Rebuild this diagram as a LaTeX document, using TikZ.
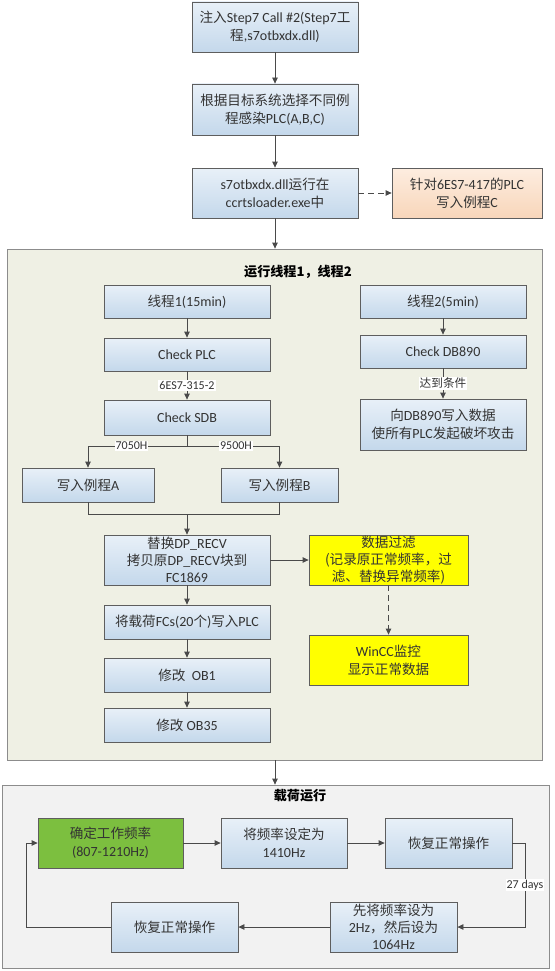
\documentclass[tikz,border=0pt]{standalone}
\usepackage{fontspec}
\setmainfont{Carlito}
\newfontfamily\cjk{Noto Sans CJK SC}[Scale=0.97]
\usetikzlibrary{arrows.meta}
\newcommand\zh[1]{{\cjk #1}}
\definecolor{lineC}{HTML}{4A4A4A}
\definecolor{txtC}{HTML}{333333}
\definecolor{boxTop}{HTML}{E8F0F8}
\definecolor{boxBot}{HTML}{C4D8EB}
\definecolor{boxBorder}{HTML}{5E5E5E}
\definecolor{orTop}{HTML}{FDEDE0}
\definecolor{orBot}{HTML}{F8D6BA}
\definecolor{yel}{HTML}{FFFF00}
\definecolor{grn}{HTML}{7CBF3F}
\definecolor{panelA}{HTML}{EFF0E4}
\definecolor{panelB}{HTML}{F2F2F2}
\definecolor{panelBorder}{HTML}{8C8C8C}
\tikzset{
  basebox/.style={draw=boxBorder, line width=0.8pt, inner sep=0pt, align=center,
    text=txtC, font=\fontsize{14}{18}\selectfont},
  bluebox/.style={basebox, top color=boxTop, bottom color=boxBot},
  orangebox/.style={basebox, top color=orTop, bottom color=orBot},
  yellowbox/.style={basebox, fill=yel},
  greenbox/.style={basebox, fill=grn},
  panel/.style={draw=panelBorder, line width=0.8pt, inner sep=0pt},
  arr/.style={draw=lineC, line width=0.8pt, -{Triangle[length=6pt,width=5.5pt]}},
  conn/.style={draw=lineC, line width=0.8pt},
  dasharr/.style={arr, dash pattern=on 6pt off 4pt},
  lbl/.style={fill=white, inner sep=1pt, text=txtC, font=\fontsize{12}{14}\selectfont},
  ptitle/.style={text=black, inner sep=0pt, font=\cjk\bfseries\fontsize{13.5}{15}\selectfont}
}
\begin{document}
\begin{tikzpicture}[x=1pt,y=-1pt]
\useasboundingbox (0,0) rectangle (554,971);
\fill[white] (0,0) rectangle (554,971);

% panels
\node[panel, fill=panelA, minimum width=535pt, minimum height=511pt] (p1) at (274.5,504.5) {};
\node[panel, fill=panelB, minimum width=547pt, minimum height=183pt] (p2) at (275.5,876.5) {};
\node[ptitle] (title1) at (298,272) {运行线程1，线程2};
\node[ptitle] (title2) at (300,796) {载荷运行};

% top chain
\node[bluebox, minimum width=166pt, minimum height=50pt] (n1) at (275,27)
  {\zh{注入}Step7 Call \#2(Step7\zh{工}\\\zh{程},s7otbxdx.dll)};
\node[bluebox, minimum width=166pt, minimum height=51pt] (n2) at (275,109.5)
  {\zh{根据目标系统选择不同例}\\\zh{程感染}PLC(A,B,C)};
\node[bluebox, minimum width=166pt, minimum height=50pt] (n3) at (275,193)
  {s7otbxdx.dll\zh{运行在}\\ccrtsloader.exe\zh{中}};
\node[orangebox, minimum width=150pt, minimum height=50pt] (nc) at (467,193)
  {\zh{针对}6ES7-417\zh{的}PLC\\\zh{写入例程}C};

% thread 1
\node[bluebox, minimum width=166pt, minimum height=33pt] (t1) at (187,301.5) {\zh{线程}1(15min)};
\node[bluebox, minimum width=166pt, minimum height=33pt] (cplc) at (187,354.5) {Check PLC};
\node[bluebox, minimum width=166pt, minimum height=35pt] (csdb) at (187,417.5) {Check SDB};
\node[bluebox, minimum width=132pt, minimum height=34pt] (wa) at (88,485) {\zh{写入例程}A};
\node[bluebox, minimum width=117pt, minimum height=34pt] (wb) at (279.5,485) {\zh{写入例程}B};
\node[bluebox, minimum width=166pt, minimum height=50pt, font=\fontsize{14}{17}\selectfont] (dp) at (187,560)
  {\zh{替换}DP\_RECV\\\zh{拷贝原}DP\_RECV\zh{块到}\\FC1869};
\node[bluebox, minimum width=166pt, minimum height=34pt] (fcs) at (187,622) {\zh{将载荷}FCs(20\zh{个})\zh{写入}PLC};
\node[bluebox, minimum width=166pt, minimum height=34pt] (ob1) at (187,675) {\zh{修改}\ \ OB1};
\node[bluebox, minimum width=166pt, minimum height=34pt] (ob35) at (187,725) {\zh{修改} OB35};
\node[yellowbox, minimum width=159pt, minimum height=50pt, font=\fontsize{14}{17}\selectfont] (filt) at (388.5,560)
  {\zh{数据过滤}\\\zh{(记录原正常频率，过}\\\zh{滤、替换异常频率)}};
\node[yellowbox, minimum width=159pt, minimum height=50pt] (wincc) at (388.5,660)
  {WinCC\zh{监控}\\\zh{显示正常数据}};

% thread 2
\node[bluebox, minimum width=166pt, minimum height=33pt] (t2) at (443,301.5) {\zh{线程}2(5min)};
\node[bluebox, minimum width=166pt, minimum height=33pt] (cdb) at (443,351.5) {Check DB890};
\node[bluebox, minimum width=166pt, minimum height=51pt] (atk) at (443,424.5)
  {\zh{向}DB890\zh{写入数据}\\\zh{使所有}PLC\zh{发起破坏攻击}};

% payload loop
\node[greenbox, minimum width=145pt, minimum height=50pt] (grn) at (110.5,843)
  {\zh{确定工作频率}\\(807-1210Hz)};
\node[bluebox, minimum width=126pt, minimum height=50pt] (f1410) at (284,843)
  {\zh{将频率设定为}\\1410Hz};
\node[bluebox, minimum width=127pt, minimum height=50pt] (rest1) at (448.5,843) {\zh{恢复正常操作}};
\node[bluebox, minimum width=127pt, minimum height=50pt, font=\fontsize{14}{17}\selectfont] (f2hz) at (393.5,927)
  {\zh{先将频率设为}\\2Hz\zh{，然后设为}\\1064Hz};
\node[bluebox, minimum width=127pt, minimum height=50pt] (rest2) at (174.5,927) {\zh{恢复正常操作}};

% coordinates for routing
\coordinate (br) at (187,446);
\coordinate (mg) at (187,514);
\coordinate (rc) at (525,843);
\coordinate (lc) at (26,927);

% connectors
\draw[arr] (n1.south) -- (n2.north);
\draw[arr] (n2.south) -- (n3.north);
\draw[dasharr] (n3.east) -- (nc.west);
\draw[arr] (n3.south) -- (n3.south |- p1.north);

\draw[arr] (t1.south) -- (cplc.north);
\draw[arr] (cplc.south) -- node[lbl]{6ES7-315-2} (csdb.north);
\draw[conn] (csdb.south) -- (br);
\draw[arr] (br) -| node[lbl,pos=0.28]{7050H} (wa.north);
\draw[arr] (br) -| node[lbl,pos=0.265]{9500H} (wb.north);
\draw[conn] (wa.south) |- (mg);
\draw[conn] (wb.south) |- (mg);
\draw[arr] (mg) -- (dp.north);
\draw[arr] (dp.south) -- (fcs.north);
\draw[arr] (fcs.south) -- (ob1.north);
\draw[arr] (ob1.south) -- (ob35.north);
\draw[arr] (dp.east) -- (filt.west);
\draw[dasharr] (filt.south) -- (wincc.north);

\draw[arr] (t2.south) -- (cdb.north);
\draw[arr] (cdb.south) -- node[lbl]{\zh{达到条件}} (atk.north);

\draw[arr] (p1.south -| n3.south) -- (n3.south |- p2.north);

\draw[arr] (grn.east) -- (f1410.west);
\draw[arr] (f1410.east) -- (rest1.west);
\draw[conn] (rest1.east) -- (rc);
\draw[arr] (rc) |- node[lbl,pos=0.25]{27 days} (f2hz.east);
\draw[arr] (f2hz.west) -- (rest2.east);
\draw[conn] (rest2.west) -- (lc);
\draw[arr] (lc) |- (grn.west);
\end{tikzpicture}
\end{document}
